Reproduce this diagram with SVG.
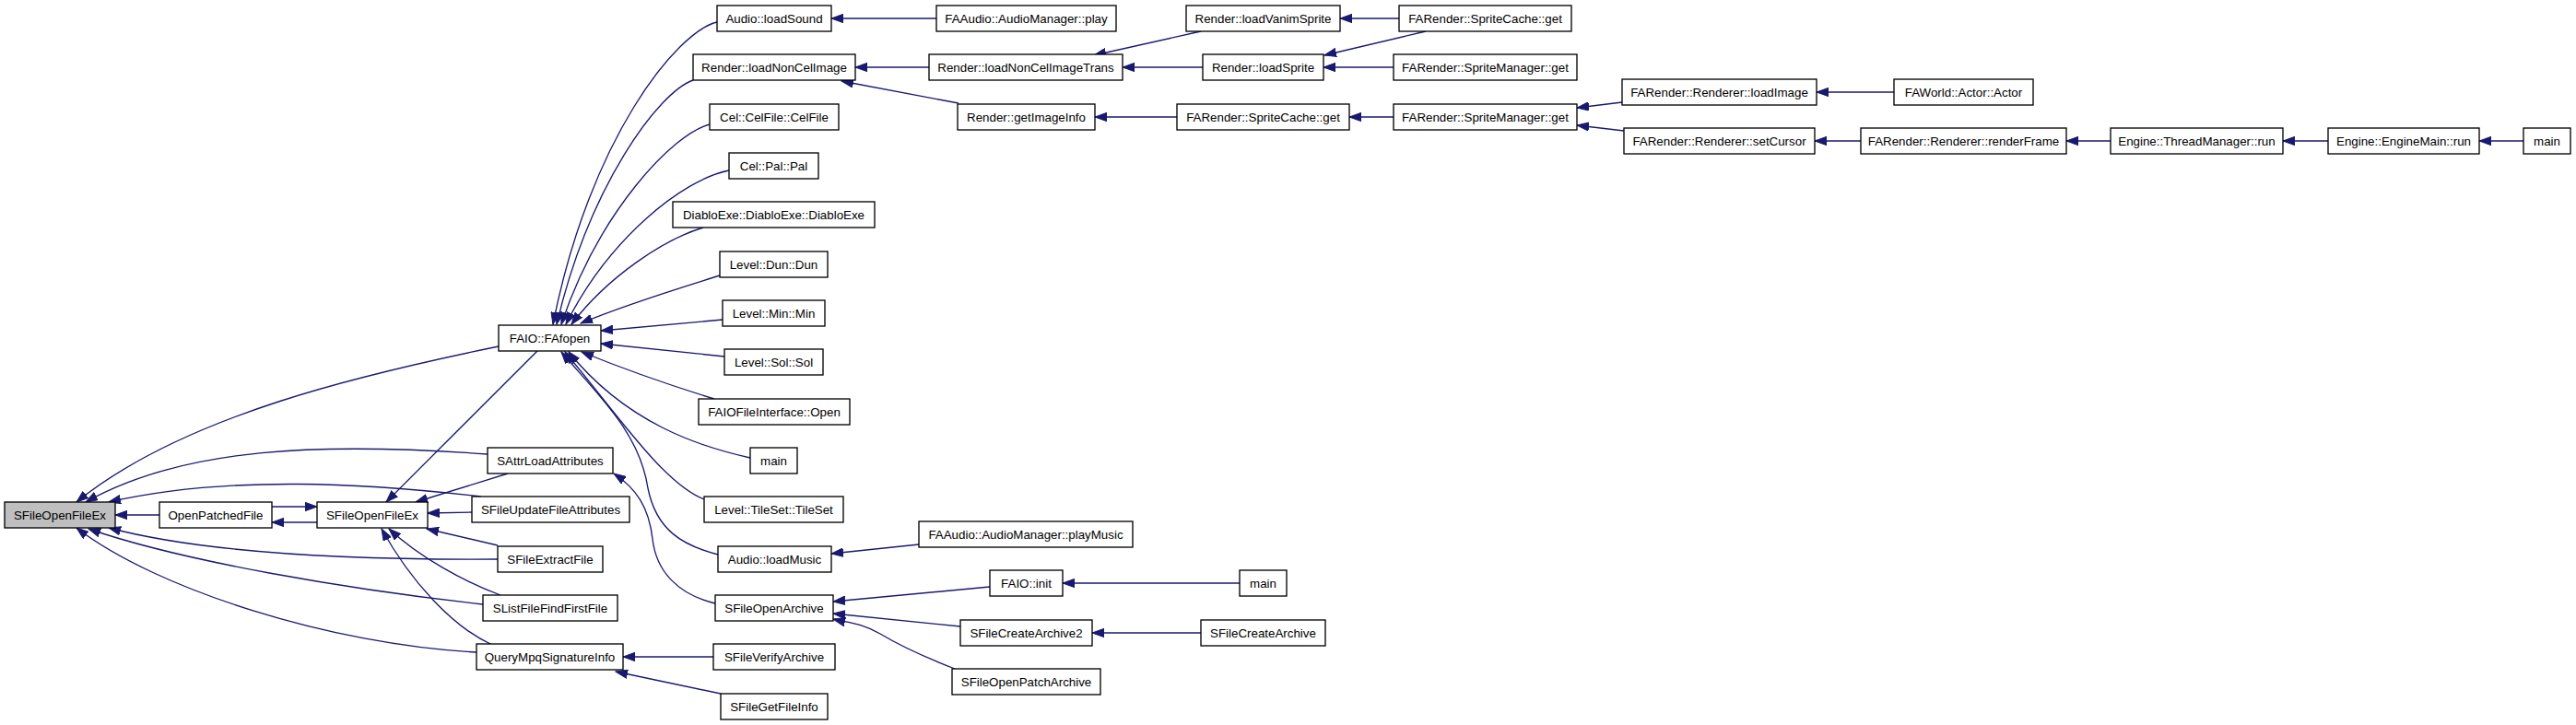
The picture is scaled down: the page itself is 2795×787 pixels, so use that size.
<svg xmlns="http://www.w3.org/2000/svg" width="2795" height="787" viewBox="0 0 2795 787">
<style>
.node rect{fill:#ffffff;stroke:#000000;stroke-width:1.33}
.node.start rect{fill:#bfbfbf}
.node text{font-family:"Liberation Sans",Arial,Helvetica,sans-serif;font-size:13.33px;text-anchor:middle;fill:#000000}
.edge{fill:none;stroke:#191970;stroke-width:1.33;marker-end:url(#ah)}
</style>
<defs>
<marker id="ah" markerUnits="userSpaceOnUse" markerWidth="14" markerHeight="10" viewBox="0 0 14 10" refX="13" refY="5" orient="auto">
<path d="M0,0.3 L13,5 L0,9.7 z" fill="#191970" stroke="#191970" stroke-width="1"/>
</marker>
</defs>
<rect width="2795" height="787" fill="#ffffff"/>
<g id="connectors">
<path class="edge" d="M173,559 L125,559"/>
<path class="edge" d="M295,550 L344,550"/>
<path class="edge" d="M344,567 L295,567"/>
<path class="edge" d="M541,376 C400,405 200,450 83,545"/>
<path class="edge" d="M529,493 C350,480 200,485 93,545"/>
<path class="edge" d="M522,539 C400,525 250,515 118,545"/>
<path class="edge" d="M540,607 C380,608 220,600 118,573"/>
<path class="edge" d="M524,656 C380,640 200,610 96,574"/>
<path class="edge" d="M517,708 C360,700 170,640 83,573"/>
<path class="edge" d="M583,381 L419,545"/>
<path class="edge" d="M551,514 L451,545"/>
<path class="edge" d="M512,556 L464,557"/>
<path class="edge" d="M540,592 L463,574"/>
<path class="edge" d="M543,646 C505,632 455,605 422,574"/>
<path class="edge" d="M534,700 C490,680 445,630 414,574"/>
<path class="edge" d="M778,24 C735,34 640,150 600,352"/>
<path class="edge" d="M752,87 C715,100 640,200 604,352"/>
<path class="edge" d="M770,135 C730,145 650,230 609,352"/>
<path class="edge" d="M791,185 C740,195 660,260 614,352"/>
<path class="edge" d="M763,247 C720,260 660,300 620,352"/>
<path class="edge" d="M781,299 C740,312 680,330 630,351"/>
<path class="edge" d="M784,347 L652,359"/>
<path class="edge" d="M786,387 L652,373"/>
<path class="edge" d="M775,433 Q700,410 631,382"/>
<path class="edge" d="M814,497 C760,485 680,460 617,382"/>
<path class="edge" d="M764,542 C720,525 670,450 613,382"/>
<path class="edge" d="M779,602 C740,592 712,575 703,530 C694,470 650,430 609,382"/>
<path class="edge" d="M776,655 C735,645 712,620 708,585 C704,550 690,530 666,514"/>
<path class="edge" d="M774,713 L676,713"/>
<path class="edge" d="M782,753 L668,729"/>
<path class="edge" d="M1016,20 L902,20"/>
<path class="edge" d="M1008,73 L928,73"/>
<path class="edge" d="M1040,112 L913,88"/>
<path class="edge" d="M997,591 L902,601"/>
<path class="edge" d="M1074,637 L904,653"/>
<path class="edge" d="M1042,680 L904,666"/>
<path class="edge" d="M1036,726 C1000,712 975,700 955,688 C935,676 920,676 904,672"/>
<path class="edge" d="M1303,34 L1187,60"/>
<path class="edge" d="M1305,73 L1218,73"/>
<path class="edge" d="M1277,127 L1188,127"/>
<path class="edge" d="M1345,633 L1153,633"/>
<path class="edge" d="M1303,687 L1185,687"/>
<path class="edge" d="M1518,20 L1454,20"/>
<path class="edge" d="M1547,34 L1437,60"/>
<path class="edge" d="M1512,73 L1436,73"/>
<path class="edge" d="M1512,127 L1464,127"/>
<path class="edge" d="M1760,111 L1711,117"/>
<path class="edge" d="M1762,142 L1711,136"/>
<path class="edge" d="M2055,100 L1971,100"/>
<path class="edge" d="M2019,153 L1969,153"/>
<path class="edge" d="M2290,153 L2242,153"/>
<path class="edge" d="M2526,153 L2477,153"/>
<path class="edge" d="M2738,153 L2690,153"/>
</g>
<g id="n_SFileOpenFileEx" class="node start"><rect x="5" y="545" width="120" height="28"/><text x="65" y="563.8">SFileOpenFileEx</text></g>
<g id="n_OpenPatchedFile" class="node"><rect x="173" y="545" width="122" height="28"/><text x="234" y="563.8">OpenPatchedFile</text></g>
<g id="n_SFileOpenFileEx2" class="node"><rect x="344" y="545" width="120" height="28"/><text x="404" y="563.8">SFileOpenFileEx</text></g>
<g id="n_FAfopen" class="node"><rect x="541" y="353" width="111" height="28"/><text x="596.5" y="371.8">FAIO::FAfopen</text></g>
<g id="n_SAttrLoadAttributes" class="node"><rect x="529" y="486" width="136" height="28"/><text x="597" y="504.8">SAttrLoadAttributes</text></g>
<g id="n_SFileUpdateFileAttributes" class="node"><rect x="512" y="539" width="171" height="28"/><text x="597.5" y="557.8">SFileUpdateFileAttributes</text></g>
<g id="n_SFileExtractFile" class="node"><rect x="540" y="593" width="114" height="28"/><text x="597" y="611.8">SFileExtractFile</text></g>
<g id="n_SListFileFindFirstFile" class="node"><rect x="524" y="646" width="146" height="28"/><text x="597" y="664.8">SListFileFindFirstFile</text></g>
<g id="n_QueryMpqSignatureInfo" class="node"><rect x="517" y="699" width="159" height="28"/><text x="596.5" y="717.8">QueryMpqSignatureInfo</text></g>
<g id="n_loadSound" class="node"><rect x="778" y="6" width="124" height="28"/><text x="840" y="24.8">Audio::loadSound</text></g>
<g id="n_loadNonCelImage" class="node"><rect x="752" y="59" width="176" height="28"/><text x="840" y="77.8">Render::loadNonCelImage</text></g>
<g id="n_CelFile" class="node"><rect x="770" y="113" width="140" height="28"/><text x="840" y="131.8">Cel::CelFile::CelFile</text></g>
<g id="n_Pal" class="node"><rect x="791" y="166" width="97" height="28"/><text x="839.5" y="184.8">Cel::Pal::Pal</text></g>
<g id="n_DiabloExe" class="node"><rect x="730" y="219" width="219" height="28"/><text x="839.5" y="237.8">DiabloExe::DiabloExe::DiabloExe</text></g>
<g id="n_Dun" class="node"><rect x="781" y="273" width="117" height="28"/><text x="839.5" y="291.8">Level::Dun::Dun</text></g>
<g id="n_Min" class="node"><rect x="784" y="326" width="111" height="28"/><text x="839.5" y="344.8">Level::Min::Min</text></g>
<g id="n_Sol" class="node"><rect x="786" y="379" width="107" height="28"/><text x="839.5" y="397.8">Level::Sol::Sol</text></g>
<g id="n_FAIOFileInterfaceOpen" class="node"><rect x="758" y="433" width="164" height="28"/><text x="840" y="451.8">FAIOFileInterface::Open</text></g>
<g id="n_main_a" class="node"><rect x="814" y="486" width="51" height="28"/><text x="839.5" y="504.8">main</text></g>
<g id="n_TileSet" class="node"><rect x="764" y="539" width="151" height="28"/><text x="839.5" y="557.8">Level::TileSet::TileSet</text></g>
<g id="n_loadMusic" class="node"><rect x="779" y="593" width="123" height="28"/><text x="840.5" y="611.8">Audio::loadMusic</text></g>
<g id="n_SFileOpenArchive" class="node"><rect x="776" y="646" width="128" height="28"/><text x="840" y="664.8">SFileOpenArchive</text></g>
<g id="n_SFileVerifyArchive" class="node"><rect x="774" y="699" width="132" height="28"/><text x="840" y="717.8">SFileVerifyArchive</text></g>
<g id="n_SFileGetFileInfo" class="node"><rect x="782" y="753" width="116" height="28"/><text x="840" y="771.8">SFileGetFileInfo</text></g>
<g id="n_AudioManagerPlay" class="node"><rect x="1016" y="6" width="195" height="28"/><text x="1113.5" y="24.8">FAAudio::AudioManager::play</text></g>
<g id="n_loadNonCelImageTrans" class="node"><rect x="1008" y="59" width="210" height="28"/><text x="1113" y="77.8">Render::loadNonCelImageTrans</text></g>
<g id="n_getImageInfo" class="node"><rect x="1039" y="113" width="149" height="28"/><text x="1113.5" y="131.8">Render::getImageInfo</text></g>
<g id="n_playMusic" class="node"><rect x="997" y="566" width="232" height="28"/><text x="1113" y="584.8">FAAudio::AudioManager::playMusic</text></g>
<g id="n_FAIOinit" class="node"><rect x="1074" y="619" width="79" height="28"/><text x="1113.5" y="637.8">FAIO::init</text></g>
<g id="n_SFileCreateArchive2" class="node"><rect x="1042" y="673" width="143" height="28"/><text x="1113.5" y="691.8">SFileCreateArchive2</text></g>
<g id="n_SFileOpenPatchArchive" class="node"><rect x="1033" y="726" width="161" height="28"/><text x="1113.5" y="744.8">SFileOpenPatchArchive</text></g>
<g id="n_loadVanimSprite" class="node"><rect x="1287" y="6" width="167" height="28"/><text x="1370.5" y="24.8">Render::loadVanimSprite</text></g>
<g id="n_loadSprite" class="node"><rect x="1305" y="59" width="131" height="28"/><text x="1370.5" y="77.8">Render::loadSprite</text></g>
<g id="n_SpriteCacheGet_b" class="node"><rect x="1277" y="113" width="187" height="28"/><text x="1370.5" y="131.8">FARender::SpriteCache::get</text></g>
<g id="n_main_b" class="node"><rect x="1345" y="619" width="51" height="28"/><text x="1370.5" y="637.8">main</text></g>
<g id="n_SFileCreateArchive" class="node"><rect x="1303" y="673" width="135" height="28"/><text x="1370.5" y="691.8">SFileCreateArchive</text></g>
<g id="n_SpriteCacheGet_a" class="node"><rect x="1518" y="6" width="187" height="28"/><text x="1611.5" y="24.8">FARender::SpriteCache::get</text></g>
<g id="n_SpriteManagerGet_a" class="node"><rect x="1512" y="59" width="199" height="28"/><text x="1611.5" y="77.8">FARender::SpriteManager::get</text></g>
<g id="n_SpriteManagerGet_b" class="node"><rect x="1512" y="113" width="199" height="28"/><text x="1611.5" y="131.8">FARender::SpriteManager::get</text></g>
<g id="n_loadImage" class="node"><rect x="1760" y="86" width="211" height="28"/><text x="1865.5" y="104.8">FARender::Renderer::loadImage</text></g>
<g id="n_setCursor" class="node"><rect x="1762" y="139" width="207" height="28"/><text x="1865.5" y="157.8">FARender::Renderer::setCursor</text></g>
<g id="n_Actor" class="node"><rect x="2055" y="86" width="151" height="28"/><text x="2130.5" y="104.8">FAWorld::Actor::Actor</text></g>
<g id="n_renderFrame" class="node"><rect x="2019" y="139" width="223" height="28"/><text x="2130.5" y="157.8">FARender::Renderer::renderFrame</text></g>
<g id="n_ThreadManagerRun" class="node"><rect x="2290" y="139" width="187" height="28"/><text x="2383.5" y="157.8">Engine::ThreadManager::run</text></g>
<g id="n_EngineMainRun" class="node"><rect x="2526" y="139" width="164" height="28"/><text x="2608" y="157.8">Engine::EngineMain::run</text></g>
<g id="n_main_c" class="node"><rect x="2738" y="139" width="51" height="28"/><text x="2763.5" y="157.8">main</text></g>
</svg>
